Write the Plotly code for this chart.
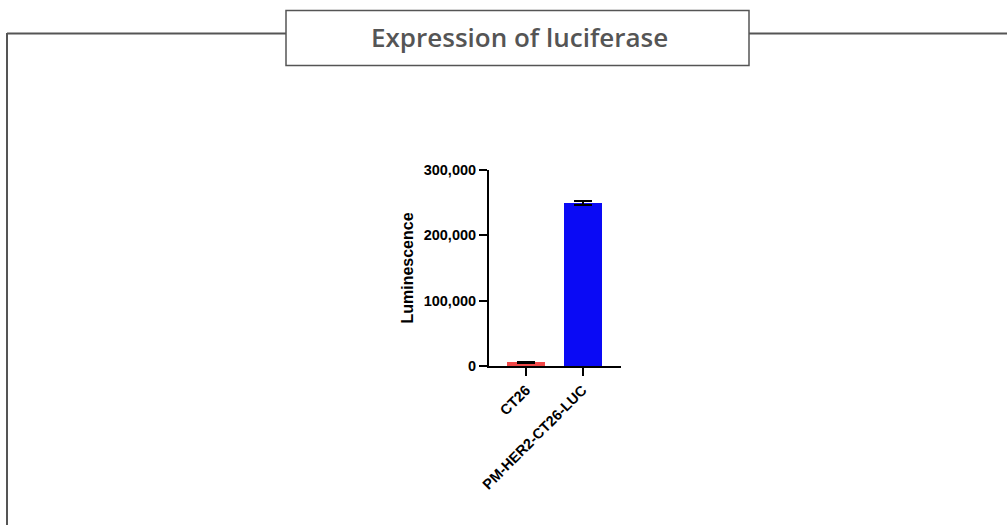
import plotly.graph_objects as go

categories = ["CT26", "PM-HER2-CT26-LUC"]
values = [5400, 250000]
errors = [1200, 3000]
bar_colors = ["#F04848", "#0A0AF5"]
y_ticks = [0, 100000, 200000, 300000]
y_tick_labels = ["0", "100,000", "200,000", "300,000"]

W, H = 1007, 525

fig = go.Figure()
fig.add_trace(go.Bar(
    x=categories, y=values,
    marker=dict(color=bar_colors, line=dict(width=0)),
    width=0.67,
    error_y=dict(type="data", array=errors, visible=True, color="black",
                 thickness=2, width=9),
))

def px(x):
    return x / W

def py(y):
    return 1 - y / H

line_col = "#555555"
shapes = [
    dict(type="line", xref="paper", yref="paper", x0=px(7), x1=px(286), y0=py(33.5), y1=py(33.5),
         line=dict(color=line_col, width=2)),
    dict(type="line", xref="paper", yref="paper", x0=px(749), x1=1, y0=py(33.5), y1=py(33.5),
         line=dict(color=line_col, width=2)),
    dict(type="line", xref="paper", yref="paper", x0=px(7), x1=px(7), y0=py(33), y1=0,
         line=dict(color=line_col, width=2)),
    dict(type="rect", xref="paper", yref="paper", x0=px(286), x1=px(749), y0=py(10.5), y1=py(65.5),
         line=dict(color=line_col, width=1.5), fillcolor="white"),
]

fig.update_layout(
    width=W, height=H,
    margin=dict(l=0, r=0, t=0, b=0, pad=0, autoexpand=False),
    paper_bgcolor="white", plot_bgcolor="white",
    showlegend=False,
    shapes=shapes,
    annotations=[dict(text="Expression of luciferase", xref="paper", yref="paper",
                      x=px(519), y=py(37), xanchor="center", yanchor="middle",
                      showarrow=False,
                      font=dict(family="Open Sans, sans-serif", size=26, color="#555555", weight=600))],
    font=dict(family="Liberation Sans, Arial, sans-serif", color="black"),
    bargap=0,
)

fig.update_xaxes(
    domain=[px(489), px(621)],
    range=[-0.655, 1.68],
    showline=True, linecolor="black", linewidth=2,
    ticks="outside", ticklen=8, tickwidth=2, tickcolor="black",
    tickangle=-45,
    tickfont=dict(size=14.5, family="Liberation Sans, Arial, sans-serif", color="black", weight="bold"),
    showgrid=False, zeroline=False, automargin=False,
)
fig.update_yaxes(
    domain=[py(366), py(170)],
    range=[0, 300000],
    tickvals=y_ticks, ticktext=y_tick_labels,
    showline=True, linecolor="black", linewidth=2,
    ticks="outside", ticklen=8, tickwidth=2, tickcolor="black",
    tickfont=dict(size=14.5, family="Liberation Sans, Arial, sans-serif", color="black", weight="bold"),
    title=dict(text="<b>Luminescence</b>", font=dict(size=16, color="black"), standoff=6),
    showgrid=False, zeroline=False, automargin=False,
)

fig.write_html("out.html", config={"displayModeBar": False},
               post_script="document.body.style.margin='0';document.body.style.overflow='hidden';")
